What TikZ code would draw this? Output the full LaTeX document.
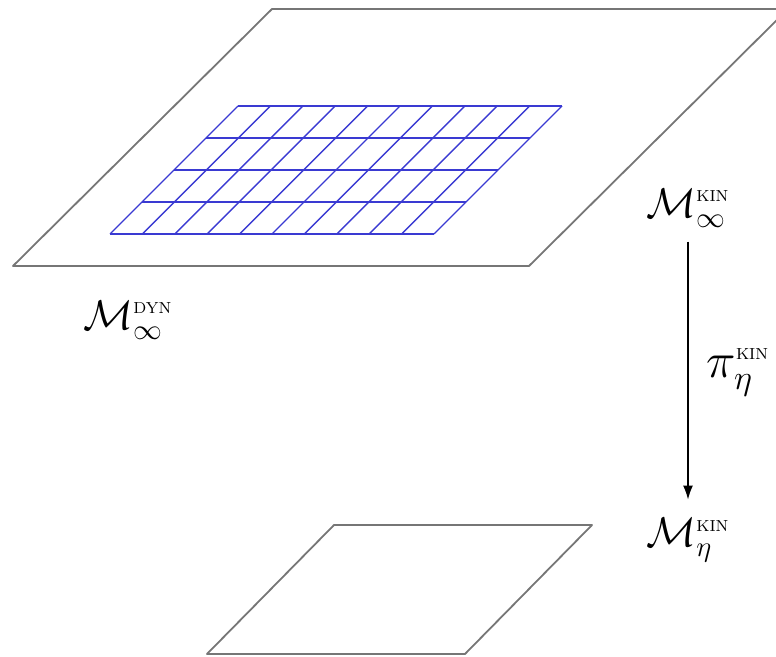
\documentclass[tikz,border=0pt]{standalone}
\usepackage{amsmath,amssymb}
\usetikzlibrary{arrows.meta,positioning}
\definecolor{sheet}{RGB}{118,118,118}
\definecolor{mesh}{RGB}{58,58,210}
\newcommand{\kinlab}{\text{\fontsize{8}{9}\selectfont KIN}}
\newcommand{\dynlab}{\text{\fontsize{8}{9}\selectfont DYN}}

\begin{document}
\begin{tikzpicture}[x=0.5pt,y=-0.5pt,
    plane/.style={draw=sheet,line width=0.9pt,line join=round},
    cell/.style={draw=mesh,line width=0.7pt},
    lbl/.style={font=\fontsize{21}{25}\selectfont,inner sep=0pt}]
  \useasboundingbox (0,0) rectangle (776,657);
  \clip (0,0) rectangle (776,657);
  % the two sheets
  \draw[plane] (13,266)--(529,266)--(788,9)--(272,9)--cycle;
  \draw[plane] (207,654)--(465,654)--(592,525)--(334,525)--cycle;
  % mesh on the upper sheet
  \foreach \r in {0,...,4}
    \draw[cell] (110+32*\r,234-32*\r)--++(324,0);
  \foreach \c in {0,...,10}
    \draw[cell] (110+32.4*\c,234)--++(128,-128);
  % labels
  \node[lbl] (dinf) at (128,320) {$\mathcal{M}^{\dynlab}_{\infty}$};
  \node[lbl] (kinf) at (688,208) {$\mathcal{M}^{\kinlab}_{\infty}$};
  \node[lbl] (keta) at (688,540) {$\mathcal{M}^{\kinlab}_{\eta}$};
  \draw[-{Latex[length=7pt,width=5pt]},line width=0.6pt,shorten <=7pt,shorten >=9pt]
    (kinf.south) -- (keta.north)
    node[lbl,font=\fontsize{25}{29}\selectfont,midway,right=9pt] (proj) {$\pi^{\kinlab}_{\eta}$};
\end{tikzpicture}
\end{document}
